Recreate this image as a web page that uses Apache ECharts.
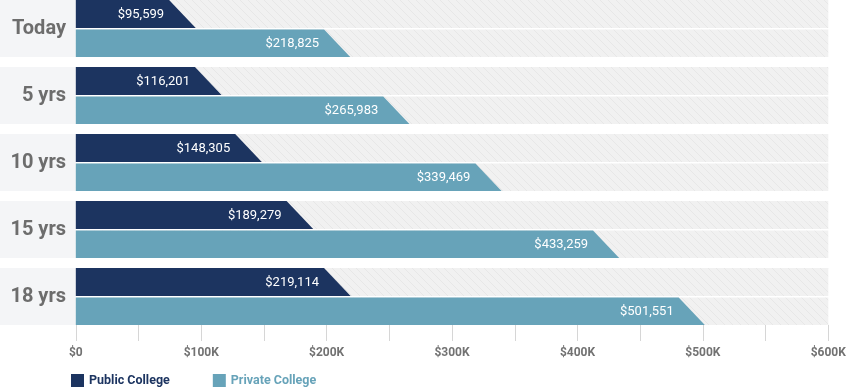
<!DOCTYPE html>
<html>
<head>
<meta charset="utf-8">
<script src="https://cdn.jsdelivr.net/npm/echarts@6/dist/echarts.min.js"></script>
<style>
html,body{margin:0;padding:0;background:#fff;}
#chart{width:851px;height:388px;}
</style>
</head>
<body>
<div id="chart"></div>
<script>
const categories = ['Today', '5 yrs', '10 yrs', '15 yrs', '18 yrs'];
const publicCollege = [95599, 116201, 148305, 189279, 219114];
const privateCollege = [218825, 265983, 339469, 433259, 501551];
const xMin = 0, xMax = 600000, xInterval = 100000;

const NAVY = '#1c3460';
const TEAL = '#67a3b9';

// hatch pattern
const tile = document.createElement('canvas');
tile.width = 8; tile.height = 8;
(function () {
  const g = tile.getContext('2d');
  g.fillStyle = '#f1f1f1';
  g.fillRect(0, 0, 8, 8);
  g.strokeStyle = '#e7e7e7';
  g.lineWidth = 1;
  g.beginPath();
  g.moveTo(-1, -1); g.lineTo(9, 9);
  g.moveTo(-1, 7); g.lineTo(1, 9);
  g.moveTo(7, -1); g.lineTo(9, 1);
  g.stroke();
})();
const hatch = { image: tile, repeat: 'repeat' };

const BLOCK = 57, BAR_H = 28, GAP = 1.5;

function bandTop(api, idx) {
  const c = api.coord([0, idx]);
  const band = api.size([0, 1])[1];
  return c[1] - band / 2;
}

function bgRender(params, api) {
  const idx = api.value(1);
  const top = bandTop(api, idx);
  const x0 = api.coord([xMin, idx])[0];
  const x1 = api.coord([xMax, idx])[0];
  return {
    type: 'group',
    children: [
      { type: 'rect', shape: { x: 0, y: top, width: x0, height: BLOCK }, style: { fill: '#f4f5f7' } },
      { type: 'rect', shape: { x: x0, y: top, width: x1 - x0, height: BAR_H }, style: { fill: hatch } },
      { type: 'rect', shape: { x: x0, y: top + BAR_H + GAP, width: x1 - x0, height: BLOCK - BAR_H - GAP }, style: { fill: hatch } },
      { type: 'text', x: 66, y: top + BLOCK / 2 + 0.5,
        style: { text: categories[idx], align: 'right', verticalAlign: 'middle',
                 font: 'bold 20px Roboto', fill: '#6d6d6d' } }
    ]
  };
}

function barRender(offsetIdx, color) {
  return function (params, api) {
    const v = api.value(0);
    const idx = api.value(1);
    const top = bandTop(api, idx);
    const yTop = top + (offsetIdx === 0 ? 0 : BAR_H + GAP);
    const h = offsetIdx === 0 ? BAR_H : BLOCK - BAR_H - GAP;
    const x0 = api.coord([0, idx])[0];
    const xv = api.coord([v, idx])[0];
    const slant = h * 0.95;
    return {
      type: 'group',
      children: [
        { type: 'polygon',
          shape: { points: [[x0, yTop], [xv - slant, yTop], [xv, yTop + h], [x0, yTop + h]] },
          style: { fill: color } },
        { type: 'text', x: xv - slant - 5, y: yTop + h / 2 + 0.5,
          style: { text: '$' + v.toLocaleString('en-US'), align: 'right', verticalAlign: 'middle',
                   font: '13px Roboto', fill: '#ffffff' } }
      ]
    };
  };
}

const chart = echarts.init(document.getElementById('chart'), null, { renderer: 'canvas' });
chart.setOption({
  animation: false,
  grid: { left: 75.8, right: 22.7, top: 0, height: 335 },
  xAxis: {
    type: 'value', min: xMin, max: xMax, interval: xInterval,
    offset: -10,
    axisLine: { show: false },
    splitLine: { show: false },
    axisTick: { show: true, length: 16, lineStyle: { color: '#d6d6d6', width: 1 } },
    minorTick: { show: true, splitNumber: 2, length: 16, lineStyle: { color: '#d6d6d6', width: 1 } },
    axisLabel: {
      margin: 22, color: '#727272', fontFamily: 'Roboto', fontWeight: 'bold', fontSize: 12,
      formatter: function (v) { return v === 0 ? '$0' : '$' + (v / 1000) + 'K'; }
    }
  },
  yAxis: {
    type: 'category', data: categories, inverse: true,
    axisLine: { show: false }, axisTick: { show: false }, axisLabel: { show: false },
    splitLine: { show: false }
  },
  legend: {
    left: 66, top: 369, itemWidth: 13, itemHeight: 13, itemGap: 43, icon: 'rect',
    textStyle: { fontFamily: 'Roboto', fontWeight: 'bold', fontSize: 12.5 },
    data: [
      { name: 'Public College', textStyle: { color: NAVY } },
      { name: 'Private College', textStyle: { color: TEAL } }
    ]
  },
  series: [
    {
      type: 'custom', name: 'bg', z: 1, silent: true,
      renderItem: bgRender,
      encode: { x: 0, y: 1 },
      data: categories.map((c, i) => [0, i])
    },
    {
      type: 'custom', name: 'Public College', z: 2,
      itemStyle: { color: NAVY },
      renderItem: barRender(0, NAVY),
      encode: { x: 0, y: 1 },
      data: publicCollege.map((v, i) => [v, i])
    },
    {
      type: 'custom', name: 'Private College', z: 2,
      itemStyle: { color: TEAL },
      renderItem: barRender(1, TEAL),
      encode: { x: 0, y: 1 },
      data: privateCollege.map((v, i) => [v, i])
    }
  ]
});
</script>
</body>
</html>
